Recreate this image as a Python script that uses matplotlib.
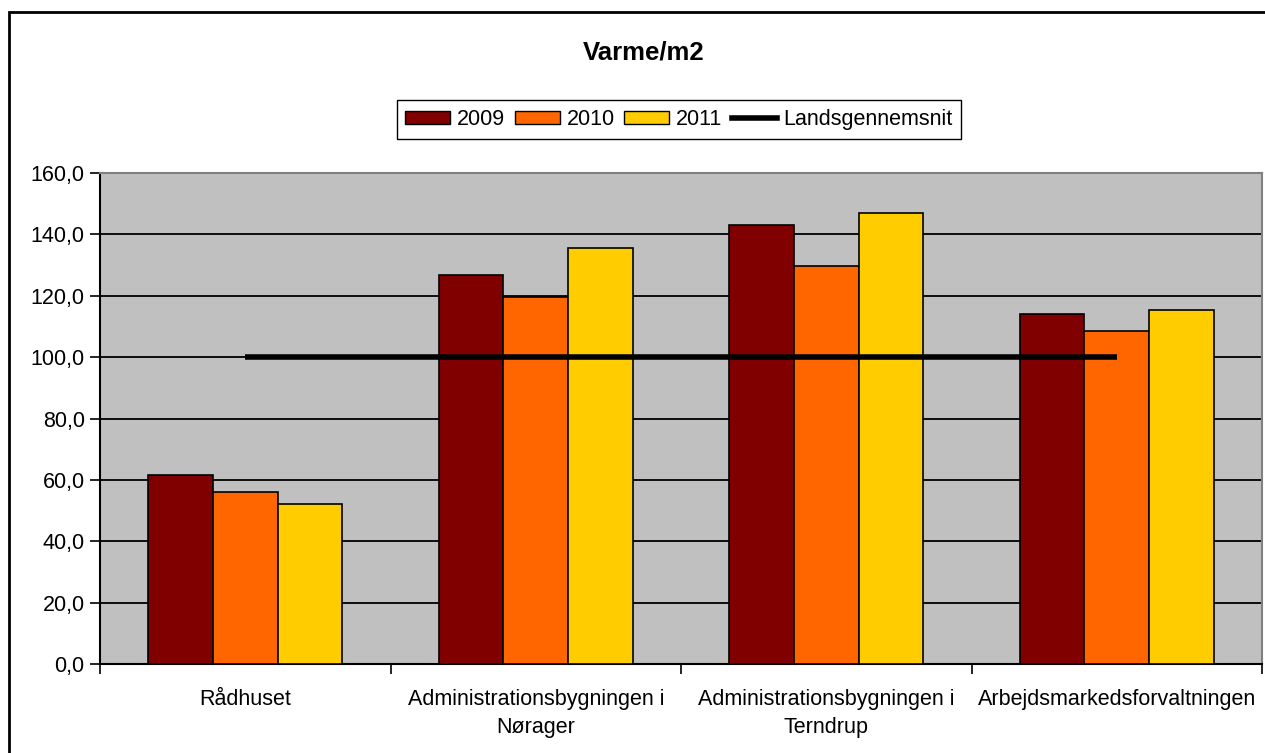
import numpy as np
import matplotlib
matplotlib.use("Agg")
import matplotlib.pyplot as plt
from matplotlib.patches import Rectangle, Patch
from matplotlib.lines import Line2D

#data
buildings = ["Rådhuset", "Administrationsbygningen i\nNørager",
             "Administrationsbygningen i\nTerndrup", "Arbejdsmarkedsforvaltningen"]
years = ["2009", "2010", "2011"]
v2009 = [61.6, 126.9, 143.2, 114.0]
v2010 = [56.0, 119.6, 129.6, 108.5]
v2011 = [52.2, 135.6, 147.0, 115.5]
landsgennemsnit = 100.0
yticks = [0, 20, 40, 60, 80, 100, 120, 140, 160]

colors = ["#800000", "#FF6600", "#FFCC00"]
plt.rcParams['font.family'] = ['Liberation Sans', 'DejaVu Sans']

fig = plt.figure(figsize=(12.65, 7.53), dpi=100)
ax = fig.add_axes([100/1265, 1-664/753, 1162/1265, 491/753])
ax.set_facecolor("#C0C0C0")

#outer chart border
fig.patches.append(Rectangle((9/1265, -0.05), 1.2, 1-12/753+0.05, transform=fig.transFigure,
                             fill=False, edgecolor="black", linewidth=2, zorder=0))

n = len(buildings)
x = np.arange(n) + 0.5
w = 1/4.5
for i, vals in enumerate([v2009, v2010, v2011]):
    ax.bar(x + (i-1)*w, vals, width=w, color=colors[i], edgecolor="black",
           linewidth=1.2, zorder=3)

ax.plot([x[0], x[-1]], [landsgennemsnit]*2, color="black", linewidth=4, zorder=4,
        solid_capstyle="butt")

ax.set_xlim(0, n)
ax.set_ylim(0, 160)
ax.set_yticks(yticks)
ax.set_yticklabels([f"{t:.1f}".replace(".", ",") for t in yticks], fontsize=15.5)
ax.yaxis.grid(True, color="black", linewidth=1.3, zorder=1)
ax.set_axisbelow(True)

#boundary ticks between groups, labels at centers
ax.set_xticks(np.arange(n+1))
ax.set_xticklabels([])
ax.set_xticks(x, minor=True)
ax.set_xticklabels(buildings, minor=True, fontsize=15.5, linespacing=1.43)
ax.tick_params(axis="x", which="major", length=7, width=1.2, direction="out")
ax.tick_params(axis="x", which="minor", length=0, pad=18)
ax.tick_params(axis="y", length=7, width=1.2, direction="out", pad=4)

for s in ["left", "bottom"]:
    ax.spines[s].set_color("black")
    ax.spines[s].set_linewidth(1.5)
for s in ["top", "right"]:
    ax.spines[s].set_color("#808080")
    ax.spines[s].set_linewidth(1.5)

fig.text(644/1265, 1-53/753, "Varme/m2", ha="center", va="center",
         fontsize=18.5, fontweight="bold")

handles = [Patch(facecolor=c, edgecolor="black", linewidth=1) for c in colors]
handles.append(Line2D([0], [0], color="black", linewidth=4))
fig.legend(handles, years + ["Landsgennemsnit"], loc="center",
           bbox_to_anchor=(679/1265, 1-119.5/753), ncol=4, fontsize=15.5,
           frameon=True, fancybox=False, edgecolor="black", framealpha=1,
           handlelength=2.1, handleheight=0.6, handletextpad=0.3,
           columnspacing=0.45, borderpad=0.4, borderaxespad=0)

fig.savefig("out.png", dpi=100)
